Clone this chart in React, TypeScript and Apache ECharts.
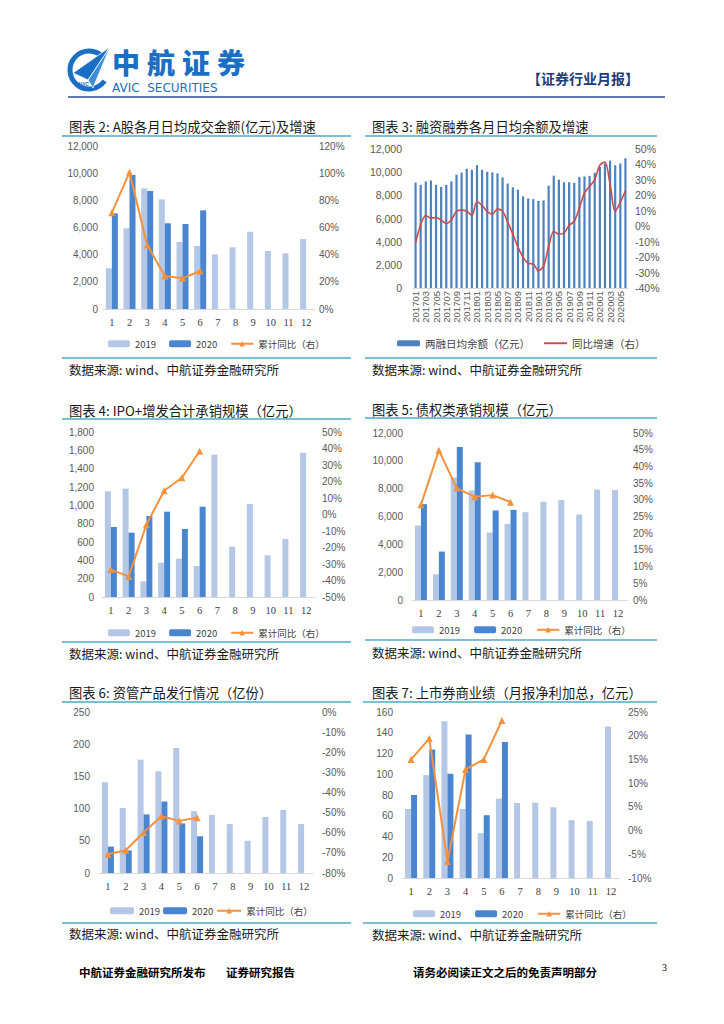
import React, { useEffect, useRef } from "react";
import * as echarts from "echarts";

// ---------------- DATA ----------------
const MONTHS = ["1", "2", "3", "4", "5", "6", "7", "8", "9", "10", "11", "12"];

// 图表2 A股各月日均成交金额(亿元)
const A_SHARE_2019 = [3000, 5940, 8880, 8070, 4930, 4640, 4020, 4540, 5690, 4270, 4100, 5150];
const A_SHARE_2020 = [7040, 9870, 8690, 6310, 6260, 7260];
const A_SHARE_YOY = [70.9, 100.6, 47.1, 24.3, 22.6, 28.0];

// 图表3 融资融券各月日均余额及增速
const MARGIN_MONTHS = [
  "201701", "201702", "201703", "201704", "201705", "201706", "201707", "201708", "201709", "201710", "201711", "201712",
  "201801", "201802", "201803", "201804", "201805", "201806", "201807", "201808", "201809", "201810", "201811", "201812",
  "201901", "201902", "201903", "201904", "201905", "201906", "201907", "201908", "201909", "201910", "201911", "201912",
  "202001", "202002", "202003", "202004", "202005", "202006",
];
const MARGIN_BALANCE = [
  9100, 8900, 9200, 9280, 8900, 8720, 8900, 9200, 9780, 9960, 10300, 10200,
  10600, 10200, 10040, 9980, 9900, 9550, 9020, 8700, 8480, 7910, 7730, 7670,
  7520, 7560, 8830, 9700, 9350, 9130, 9130, 9080, 9590, 9630, 9680, 9950,
  10450, 10750, 11000, 10600, 10750, 11200,
];
const MARGIN_YOY = [
  -10.8, 1.0, 6.9, 5.2, 5.6, 3.9, 1.7, 4.2, 9.7, 10.4, 9.7, 7.0,
  16.0, 13.4, 9.5, 7.8, 11.1, 9.7, 2.7, -5.0, -13.5, -20.0, -24.0, -24.5,
  -28.8, -26.0, -13.0, -3.3, -5.2, -4.4, 0.6, 3.2, 11.8, 21.6, 25.8, 30.2,
  39.5, 41.6, 27.0, 9.6, 15.5, 23.0,
];

// 图表4 IPO+增发合计承销规模（亿元）
const IPO_2019 = [1153, 1182, 171, 375, 418, 338, 1553, 549, 1015, 455, 633, 1575];
const IPO_2020 = [764, 702, 884, 931, 742, 985];
const IPO_YOY = [-33.4, -37.5, -6.2, 14.4, 22.3, 38.3];

// 图表5 债权类承销规模（亿元）
const BOND_2019 = [5350, 1850, 8800, 7870, 4850, 5470, 6310, 7060, 7180, 6140, 7940, 7900];
const BOND_2020 = [6890, 3480, 10990, 9890, 6430, 6480];
const BOND_YOY = [28.5, 44.8, 33.5, 30.9, 31.4, 29.3];

// 图表6 资管产品发行情况（亿份）
const AM_2019 = [141, 101, 176, 158, 194, 96, 90, 76, 50, 87, 98, 76];
const AM_2020 = [41, 35, 91, 111, 77, 57];
const AM_YOY = [-70.7, -68.7, -59.9, -51.8, -54.1, -52.5];

// 图表7 上市券商业绩（月报净利加总，亿元）
const BROKER_2019 = [66.6, 99.2, 151, 66.6, 43.2, 76.5, 72.3, 72.6, 68.2, 55.7, 55, 146];
const BROKER_2020 = [80, 123.8, 100.5, 138.2, 60.5, 131.2];
const BROKER_YOY = [15.0, 19.4, -6.5, 12.9, 15.0, 23.2];

// ---------------- STYLE ----------------
const C_LIGHT = "#b4c7e7";
const C_DARK = "#4a86d0";
const C_ORANGE = "#f4913c";
const C_BAR3 = "#4f81bd";
const C_RED = "#cc4b45";
const C_RULE = "#4bacc6";
const CJK = '"Noto Sans CJK SC", sans-serif';
const SANS = '"Liberation Sans", Arial, sans-serif';
const SERIF = '"Liberation Serif", "Times New Roman", serif';

const L_2019 = "2019";
const L_2020 = "2020";
const L_YOY = "累计同比（右）";

const fmtComma = (v: number) => v.toLocaleString("en-US");
const fmtPct = (v: number) => `${v}%`;

type StdPanel = {
  grid: { left: number; top: number; width: number; height: number };
  leftAxis: { min: number; max: number; interval: number; margin: number; comma: boolean };
  rightAxis: { min: number; max: number; interval: number; margin: number };
  legend: { left: number; top: number; gap: number; w: number };
  v2019: number[];
  v2020: number[];
  yoy: number[];
};

const STD_PANELS: StdPanel[] = [
  {
    grid: { left: 103, top: 146, width: 212, height: 163 },
    leftAxis: { min: 0, max: 12000, interval: 2000, margin: 5, comma: true },
    rightAxis: { min: 0, max: 120, interval: 20, margin: 4 },
    legend: { left: 103, top: 334, gap: 13, w: 22 },
    v2019: A_SHARE_2019, v2020: A_SHARE_2020, yoy: A_SHARE_YOY,
  },
  {
    grid: { left: 102, top: 432, width: 213, height: 165 },
    leftAxis: { min: 0, max: 1800, interval: 200, margin: 8, comma: true },
    rightAxis: { min: -50, max: 50, interval: 10, margin: 7 },
    legend: { left: 103, top: 623, gap: 13, w: 22 },
    v2019: IPO_2019, v2020: IPO_2020, yoy: IPO_YOY,
  },
  {
    grid: { left: 412, top: 433, width: 215, height: 167 },
    leftAxis: { min: 0, max: 12000, interval: 2000, margin: 9, comma: true },
    rightAxis: { min: 0, max: 50, interval: 5, margin: 6 },
    legend: { left: 407, top: 620, gap: 14, w: 22 },
    v2019: BOND_2019, v2020: BOND_2020, yoy: BOND_YOY,
  },
  {
    grid: { left: 99, top: 712, width: 214, height: 161 },
    leftAxis: { min: 0, max: 250, interval: 50, margin: 9, comma: false },
    rightAxis: { min: -80, max: 0, interval: 10, margin: 9 },
    legend: { left: 105, top: 901, gap: 3, w: 24 },
    v2019: AM_2019, v2020: AM_2020, yoy: AM_YOY,
  },
  {
    grid: { left: 402, top: 712, width: 218, height: 166 },
    leftAxis: { min: 0, max: 160, interval: 20, margin: 9, comma: false },
    rightAxis: { min: -10, max: 25, interval: 5, margin: 8 },
    legend: { left: 408, top: 904, gap: 14, w: 22 },
    v2019: BROKER_2019, v2020: BROKER_2020, yoy: BROKER_YOY,
  },
];

const PANEL_TEXTS = [
  { title: "图表 2: A股各月日均成交金额(亿元)及增速", x: 69, ty: 126, r1: 136, r2: 358, sy: 369, x1: 62, x2: 351 },
  { title: "图表 3: 融资融券各月日均余额及增速", x: 372, ty: 126, r1: 136, r2: 358, sy: 369, x1: 365, x2: 657 },
  { title: "图表 4: IPO+增发合计承销规模（亿元）", x: 69, ty: 410, r1: 419, r2: 642, sy: 653, x1: 62, x2: 351 },
  { title: "图表 5: 债权类承销规模（亿元）", x: 372, ty: 409, r1: 418, r2: 640, sy: 652, x1: 365, x2: 657 },
  { title: "图表 6: 资管产品发行情况（亿份）", x: 69, ty: 692, r1: 702, r2: 923, sy: 933, x1: 62, x2: 351 },
  { title: "图表 7: 上市券商业绩（月报净利加总，亿元）", x: 372, ty: 692, r1: 702, r2: 923, sy: 934, x1: 363, x2: 657 },
];
const SOURCE_TEXT = "数据来源: wind、中航证券金融研究所";

function buildOption() {
  const grid: any[] = [];
  const xAxis: any[] = [];
  const yAxis: any[] = [];
  const series: any[] = [];
  const legend: any[] = [];

  const axisLabelBase = { fontFamily: SANS, fontSize: 10, color: "#595959" };

  // Chart 3 (margin) first: grid 0
  grid.push({ left: 413, top: 149, width: 215, height: 139 });
  xAxis.push({
    type: "category", gridIndex: 0, data: MARGIN_MONTHS,
    axisLine: { lineStyle: { color: "#d9d9d9" } }, axisTick: { show: false },
    axisLabel: { rotate: 90, interval: 1, fontFamily: SANS, fontSize: 9.5, color: "#595959", margin: 3 },
  });
  yAxis.push({
    type: "value", gridIndex: 0, min: 0, max: 12000, interval: 2000,
    splitLine: { show: false }, axisLine: { show: false }, axisTick: { show: false },
    axisLabel: { ...axisLabelBase, fontSize: 10.5, margin: 11, formatter: fmtComma },
  });
  yAxis.push({
    type: "value", gridIndex: 0, position: "right", min: -40, max: 50, interval: 10,
    splitLine: { show: false }, axisLine: { show: false }, axisTick: { show: false },
    axisLabel: { ...axisLabelBase, fontSize: 10.5, margin: 7, formatter: fmtPct },
  });
  series.push({
    name: "两融日均余额（亿元）", type: "bar", xAxisIndex: 0, yAxisIndex: 0,
    data: MARGIN_BALANCE, barWidth: 2.2, itemStyle: { color: C_BAR3 },
  });
  series.push({
    name: "同比增速（右）", type: "line", xAxisIndex: 0, yAxisIndex: 1,
    data: MARGIN_YOY, symbol: "none", smooth: 0.3,
    lineStyle: { color: C_RED, width: 1.6 }, itemStyle: { color: C_RED },
  });
  legend.push({
    data: [
      { name: "两融日均余额（亿元）" },
      { name: "同比增速（右）", icon: "path://M0 0H24V2H0Z", itemStyle: { color: C_RED } },
    ],
    left: 392, top: 333,
    itemWidth: 23, itemHeight: 6, itemGap: 14,
    textStyle: { fontFamily: CJK, fontSize: 10.5, color: "#404040" },
  });

  STD_PANELS.forEach((p, i) => {
    const gi = i + 1;
    grid.push({ ...p.grid });
    xAxis.push({
      type: "category", gridIndex: gi, data: MONTHS,
      axisLine: { lineStyle: { color: "#d9d9d9" } }, axisTick: { show: false },
      axisLabel: { fontFamily: SERIF, fontSize: 10.5, color: "#404040", margin: 8 },
    });
    yAxis.push({
      type: "value", gridIndex: gi, min: p.leftAxis.min, max: p.leftAxis.max, interval: p.leftAxis.interval,
      splitLine: { show: false }, axisLine: { show: false }, axisTick: { show: false },
      axisLabel: { ...axisLabelBase, margin: p.leftAxis.margin, formatter: p.leftAxis.comma ? fmtComma : (v: number) => `${v}` },
    });
    yAxis.push({
      type: "value", gridIndex: gi, position: "right", min: p.rightAxis.min, max: p.rightAxis.max, interval: p.rightAxis.interval,
      splitLine: { show: false }, axisLine: { show: false }, axisTick: { show: false },
      axisLabel: { ...axisLabelBase, margin: p.rightAxis.margin, formatter: fmtPct },
    });
    const yi = 2 + i * 2;
    series.push({
      name: L_2019, type: "bar", xAxisIndex: gi, yAxisIndex: yi, data: p.v2019,
      barWidth: 6, barGap: "0%", itemStyle: { color: C_LIGHT },
    });
    series.push({
      name: L_2020, type: "bar", xAxisIndex: gi, yAxisIndex: yi, data: p.v2020,
      barWidth: 6, barGap: "0%", itemStyle: { color: C_DARK },
    });
    series.push({
      name: L_YOY, type: "line", xAxisIndex: gi, yAxisIndex: yi + 1, data: p.yoy,
      symbol: "triangle", symbolSize: 7, z: 5,
      lineStyle: { color: C_ORANGE, width: 2 }, itemStyle: { color: C_ORANGE },
    });
    legend.push({
      data: [L_2019, L_2020, L_YOY], left: p.legend.left, top: p.legend.top,
      itemWidth: p.legend.w, itemHeight: 7, itemGap: p.legend.gap,
      textStyle: { fontFamily: CJK, fontSize: 9.5, color: "#404040" },
    });
  });

  // ---------- graphic: header, titles, rules, sources, footer ----------
  const graphic: any[] = [];
  // logo
  graphic.push({
    type: "arc",
    shape: { cx: 89, cy: 70, r: 19, startAngle: (35 * Math.PI) / 180, endAngle: (318 * Math.PI) / 180, clockwise: true },
    style: { stroke: "#1a6fc4", lineWidth: 5, fill: "none" },
  });
  graphic.push({
    type: "polygon",
    shape: { points: [[73, 73], [110, 47], [88, 80]] },
    style: { fill: "#1a6fc4", stroke: "#fff", lineWidth: 0.8 },
  });
  graphic.push({
    type: "polygon",
    shape: { points: [[88, 80], [110, 47], [93, 88]] },
    style: { fill: "#3d8fd6", stroke: "#fff", lineWidth: 0.8 },
  });
  graphic.push({
    type: "text",
    style: { text: "AVIC", x: 83, y: 84, font: "italic bold 5px " + SANS, fill: "#1a6fc4", textAlign: "center", textVerticalAlign: "middle" },
  });
  const brand = ["中", "航", "证", "券"];
  brand.forEach((ch, i) => {
    graphic.push({
      type: "text",
      style: { text: ch, x: 112 + i * 35, y: 62, font: "900 28px " + CJK, fill: "#1a6fc4", textVerticalAlign: "middle" },
    });
  });
  graphic.push({
    type: "text",
    style: { text: "AVIC  SECURITIES", x: 112, y: 88, font: '12px "DejaVu Sans", sans-serif', fill: "#1a6fc4", textVerticalAlign: "middle" },
  });
  graphic.push({
    type: "text",
    style: { text: "【证券行业月报】", x: 527, y: 78, font: "bold 14px " + CJK, fill: "#203c78", textVerticalAlign: "middle" },
  });
  graphic.push({
    type: "line", shape: { x1: 68, y1: 97, x2: 665, y2: 97 },
    style: { stroke: "#2b4f8f", lineWidth: 1.5 },
  });

  PANEL_TEXTS.forEach((t) => {
    graphic.push({
      type: "text",
      style: { text: t.title, x: t.x, y: t.ty, font: "13.3px " + CJK, fill: "#1a1a1a", textVerticalAlign: "middle" },
    });
    graphic.push({ type: "line", shape: { x1: t.x1, y1: t.r1, x2: t.x2, y2: t.r1 }, style: { stroke: C_RULE, lineWidth: 1.5 } });
    graphic.push({ type: "line", shape: { x1: t.x1, y1: t.r2, x2: t.x2, y2: t.r2 }, style: { stroke: C_RULE, lineWidth: 1.5 } });
    graphic.push({
      type: "text",
      style: { text: SOURCE_TEXT, x: t.x, y: t.sy, font: "12.5px " + CJK, fill: "#1a1a1a", textVerticalAlign: "middle" },
    });
  });

  // footer
  graphic.push({
    type: "text",
    style: { text: "中航证券金融研究所发布", x: 79, y: 972, font: "bold 11.5px " + CJK, fill: "#000", textVerticalAlign: "middle" },
  });
  graphic.push({
    type: "text",
    style: { text: "证券研究报告", x: 226, y: 972, font: "bold 11.5px " + CJK, fill: "#000", textVerticalAlign: "middle" },
  });
  graphic.push({
    type: "text",
    style: { text: "请务必阅读正文之后的免责声明部分", x: 413, y: 972, font: "bold 11.5px " + CJK, fill: "#000", textVerticalAlign: "middle" },
  });
  graphic.push({
    type: "text",
    style: { text: "3", x: 662, y: 967, font: "10px " + SERIF, fill: "#000", textVerticalAlign: "middle" },
  });

  return {
    animation: false,
    backgroundColor: "#ffffff",
    grid, xAxis, yAxis, series, legend, graphic,
  };
}

export default function App() {
  const ref = useRef<HTMLDivElement>(null);
  useEffect(() => {
    if (!ref.current) return;
    const chart = echarts.init(ref.current, undefined, { renderer: "svg" });
    chart.setOption(buildOption());
    return () => chart.dispose();
  }, []);
  return (
    <div
      ref={ref}
      style={{ position: "absolute", left: 0, top: 0, width: 724, height: 1024, background: "#fff" }}
    />
  );
}
